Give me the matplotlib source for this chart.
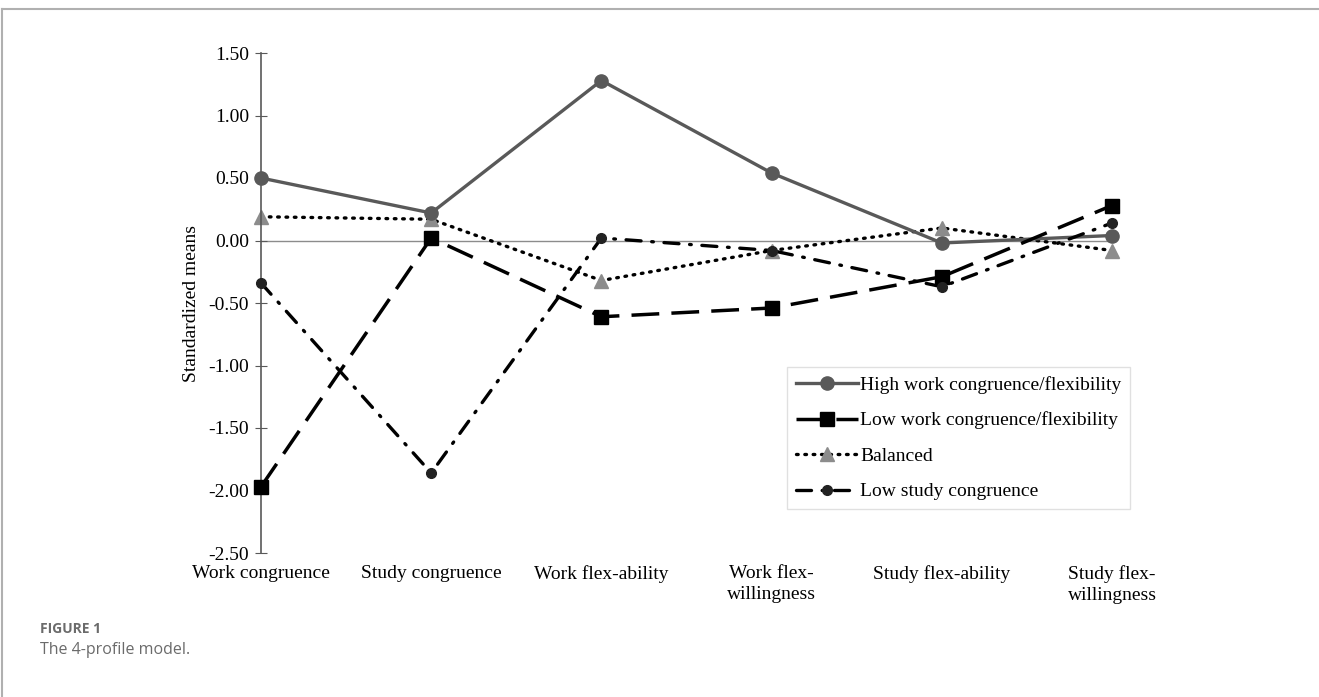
import matplotlib
matplotlib.use("Agg")
import matplotlib.pyplot as plt
from matplotlib.lines import Line2D

categories = ["Work congruence", "Study congruence", "Work flex-ability",
              "Work flex-\nwillingness", "Study flex-ability", "Study flex-\nwillingness"]
high_work = [0.50, 0.22, 1.28, 0.54, -0.02, 0.04]
low_work = [-1.97, 0.02, -0.61, -0.54, -0.29, 0.28]
balanced = [0.19, 0.17, -0.32, -0.08, 0.10, -0.08]
low_study = [-0.34, -1.86, 0.02, -0.08, -0.37, 0.14]
yticks = [1.50, 1.00, 0.50, 0.00, -0.50, -1.00, -1.50, -2.00, -2.50]

plt.rcParams['font.family'] = ['Liberation Serif', 'DejaVu Serif']
FS = 14

fig = plt.figure(figsize=(13.19, 6.97), dpi=100)
ax = fig.add_axes([261/1319, 1-553/697, (1112-261)/1319, (553-53)/697])

x = list(range(len(categories)))
ax.axhline(0, color='#8c8c8c', lw=1.0, zorder=1)

ax.plot(x, high_work, color='#595959', lw=2.4, marker='o', ms=9.5,
        label='High work congruence/flexibility', clip_on=False, zorder=3)
ax.plot(x, low_work, color='black', lw=2.5, dashes=(8, 3.5), marker='s', ms=9.5,
        label='Low work congruence/flexibility', clip_on=False, zorder=4)
ax.plot(x, balanced, color='black', lw=2.4, linestyle=(0, (0.5, 2.0)),
        dash_capstyle='round', marker='^', ms=9.5, mfc='#8c8c8c', mec='#8c8c8c',
        label='Balanced', clip_on=False, zorder=2)
ax.plot(x, low_study, color='black', lw=2.4, linestyle=(0, (4.5, 3.2, 0.5, 3.2)),
        dash_capstyle='round', marker='o', ms=7, mfc='#222222', mec='#222222',
        label='Low study congruence', clip_on=False, zorder=5)

ax.set_xlim(0, 5)
ax.set_ylim(-2.5, 1.5)
ax.set_yticks(yticks)
ax.set_yticklabels([f"{v:.2f}" for v in yticks], fontsize=FS)
ax.set_xticks(x)
ax.set_xticklabels(categories, fontsize=FS, linespacing=1.25)
ax.tick_params(axis='x', length=0, pad=9)
ax.tick_params(axis='y', direction='inout', length=9, color='#595959', pad=4)
for s in ['top', 'right', 'bottom']:
    ax.spines[s].set_visible(False)
ax.spines['left'].set_color('#595959')
ax.spines['left'].set_linewidth(1.2)
ax.set_ylabel("Standardized means", fontsize=FS, labelpad=6)

leg = ax.legend(loc='upper left', bbox_to_anchor=(787/1319, 1-367/697),
                bbox_transform=fig.transFigure, fontsize=FS, frameon=True,
                fancybox=False, edgecolor='#d9d9d9', handlelength=3.2,
                handletextpad=0.1, labelspacing=0.92, borderpad=0.45,
                borderaxespad=0)
leg.get_frame().set_linewidth(1.0)

# page frame lines
fig.add_artist(Line2D([2/1319, 1], [1-9/697, 1-9/697], color='#b0b0b0', lw=1.5,
                      transform=fig.transFigure))
fig.add_artist(Line2D([2/1319, 2/1319], [0, 1-9/697], color='#b0b0b0', lw=1.5,
                      transform=fig.transFigure))

fig.text(40/1319, 1-629/697, "FIGURE 1", fontsize=10, fontweight='bold',
         color='#6b6b6b', family=['Open Sans', 'DejaVu Sans'], va='center')
fig.text(40/1319, 1-650/697, "The 4-profile model.", fontsize=11.5,
         color='#6b6b6b', family=['Open Sans', 'DejaVu Sans'], va='center')

fig.savefig("out.png", dpi=100)
